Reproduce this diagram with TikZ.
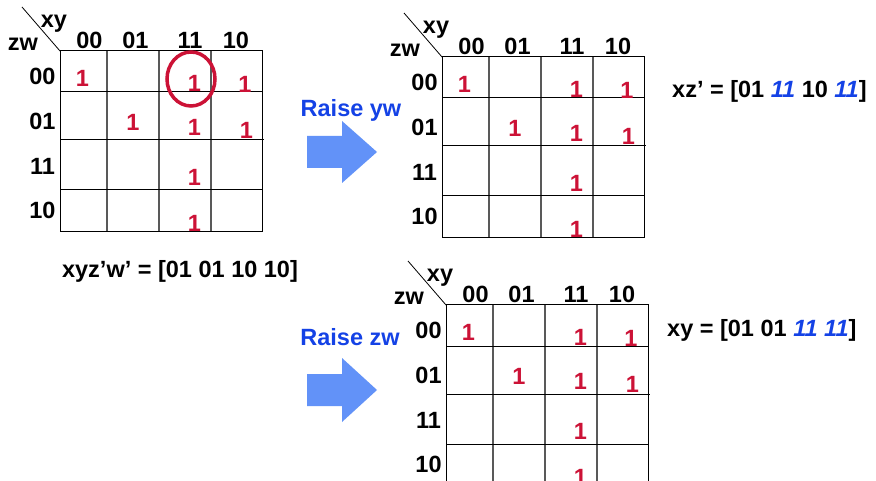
\documentclass[tikz,border=0pt]{standalone}
\usepackage{fontspec}
\setmainfont{Liberation Sans}
\usepackage{tikz}

\definecolor{onered}{RGB}{204,18,54}
\definecolor{raiseblue}{RGB}{20,66,230}
\definecolor{arrowblue}{RGB}{98,146,248}

\tikzset{
  lbl/.style={font=\bfseries\fontsize{23.5}{23.5}\selectfont, inner sep=0pt},
  one/.style={lbl, text=onered},
  rowline/.style={line width=1pt, black},
  colline/.style={line width=1.4pt, black!65},
  eqn/.style={lbl, anchor=base west},
  fatarrow/.style={fill=arrowblue, draw=none}
}

% one Karnaugh map, top left corner of the grid at (#2,#3)
\newcommand{\kmap}[3]{%
  \begin{scope}[shift={(#2,#3)}]
    \foreach \x in {47,99,151} \draw[colline] (\x,0) -- (\x,181);
    \foreach \y in {41,139} \draw[rowline] (0,\y) -- (202,\y);
    \draw[rowline] (0,89) -- (204,89);
    \draw[rowline] (0,0) rectangle (202,181);
    \draw[line width=0.8pt] (-38,-44) -- (0,0);
    \node[lbl] (#1xy) at (-6,-27) {xy};
    \node[lbl] (#1zw) at (-37,-7) {zw};
    \foreach \lab/\x in {00/29.5,01/75.5,11/130,10/176}
      \node[lbl] (#1c\lab) at (\x,-10.5) {\lab};
    \foreach \lab/\y in {00/25,01/70,11/115.5,10/159.5}
      \node[lbl] (#1r\lab) at (-17.5,\y) {\lab};
    \foreach \x/\y [count=\i] in {22.5/27.5,134.5/32,185/33.5,73/71,134.5/76,186.5/79,134.5/126.5,134.5/172.5}
      \node[one] (#1one\i) at (\x,\y) {1};
  \end{scope}}

\begin{document}
\begin{tikzpicture}[x=1pt, y=-1pt]
  \useasboundingbox (0,0) rectangle (876,481);
  \fill[white] (0,0) rectangle (876,481);
  \clip (0,0) rectangle (876,481);

  % original map and its two raised versions
  \kmap{a}{60}{51}
  \kmap{b}{442}{57}
  \kmap{c}{446}{305}

  \draw[onered, line width=3.5pt] (191,79) ellipse [x radius=24, y radius=27];

  % raise yw
  \node[lbl, text=raiseblue, anchor=base] (raiseyw) at (351,117) {Raise yw};
  \fill[fatarrow] (307,136) -- (342,136) -- (342,121) -- (377,152)
    -- (342,183) -- (342,168) -- (307,168) -- cycle;

  % raise zw
  \node[lbl, text=raiseblue, anchor=base] (raisezw) at (350,345) {Raise zw};
  \fill[fatarrow] (307,374) -- (342,374) -- (342,358) -- (377,390)
    -- (342,422) -- (342,406) -- (307,406) -- cycle;

  \node[lbl, anchor=base] (eqa) at (180,278) {xyz’w’ = [01 01 10 10]};
  \node[eqn] (eqb) at (672,98)
    {xz’ = [01 \textcolor{raiseblue}{\textit{11}} 10 \textcolor{raiseblue}{\textit{11}}]};
  \node[eqn] (eqc) at (667,337)
    {xy = [01 01 \textcolor{raiseblue}{\textit{11 11}}]};
\end{tikzpicture}
\end{document}
